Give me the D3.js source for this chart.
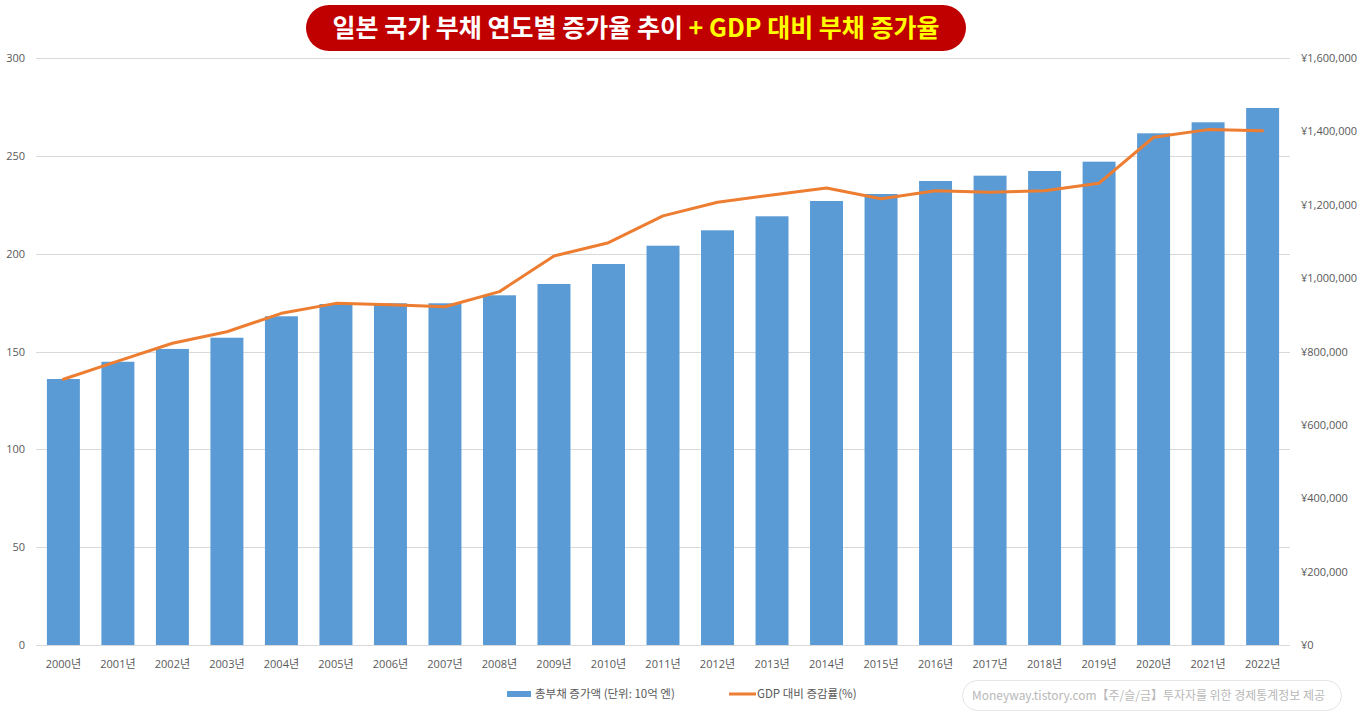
<!DOCTYPE html>
<html><head><meta charset="utf-8">
<script src="https://cdn.jsdelivr.net/npm/d3@7"></script>
<style>
html,body{margin:0;padding:0;background:#fff;}
svg{display:block;font-family:"Noto Sans CJK KR","Noto Sans",sans-serif;}
</style></head>
<body><svg id="c" width="1366" height="712"></svg>
<script>
const years = ["2000년","2001년","2002년","2003년","2004년","2005년","2006년","2007년","2008년","2009년","2010년","2011년","2012년","2013년","2014년","2015년","2016년","2017년","2018년","2019년","2020년","2021년","2022년"];
// 총부채 (단위: 10억 엔) - right axis
const debt = [725000,772000,807000,837600,896000,929500,931400,931400,953200,984000,1038500,1088400,1130300,1168500,1210200,1229300,1264700,1279200,1292000,1317400,1394700,1424700,1463700];
// GDP 대비 (%) - left axis
const ratio = [135.8,145.1,154.2,160.1,169.5,174.6,173.9,172.9,180.6,198.8,205.6,219.3,226.3,230.0,233.6,228.1,232.2,231.4,232.2,236.0,259.5,263.4,262.8];
const leftTicks = [0,50,100,150,200,250,300];
const rightTicks = [0,200000,400000,600000,800000,1000000,1200000,1400000,1600000];
const titleWhite = "일본 국가 부채 연도별 증가율 추이 ";
const titleYellow = "+ GDP 대비 부채 증가율";
const legendBar = "총부채 증가액 (단위: 10억 엔)";
const legendLine = "GDP 대비 증감률(%)";
const watermark = "Moneyway.tistory.com【주/슬/금】투자자를 위한 경제통계정보 제공";

const svg = d3.select("#c");
const pTop = 58, pBottom = 645, pLeft = 36, pRight = 1290;
const x = d3.scaleBand().domain(years).range([pLeft, pRight]).paddingInner(0.395).paddingOuter(0.2);
const yL = d3.scaleLinear().domain([0,300]).range([pBottom, pTop]);
const yR = d3.scaleLinear().domain([0,1600000]).range([pBottom, pTop]);

// gridlines
svg.append("g").selectAll("line").data(leftTicks.filter(d=>d>0)).join("line")
  .attr("x1", pLeft).attr("x2", pRight)
  .attr("y1", d=>Math.round(yL(d))+0.5).attr("y2", d=>Math.round(yL(d))+0.5)
  .attr("stroke","#d9d9d9").attr("stroke-width",1);

// bars
svg.append("g").selectAll("rect").data(debt).join("rect")
  .attr("x",(d,i)=>x(years[i])).attr("width",x.bandwidth())
  .attr("y",d=>yR(d)).attr("height",d=>pBottom-yR(d))
  .attr("fill","#5b9bd5");

// baseline
svg.append("line").attr("x1",pLeft).attr("x2",pRight).attr("y1",pBottom+0.5).attr("y2",pBottom+0.5)
  .attr("stroke","#d9d9d9");

// line
const line = d3.line().x((d,i)=>x(years[i])+x.bandwidth()/2).y(d=>yL(d));
svg.append("path").datum(ratio).attr("d",line).attr("fill","none")
  .attr("stroke","#ed7d31").attr("stroke-width",3).attr("stroke-linejoin","round").attr("stroke-linecap","round");

// left axis
const axL = d3.axisLeft(yL).tickValues(leftTicks).tickSize(0).tickPadding(0).tickFormat(d3.format("d"));
const gL = svg.append("g").attr("transform","translate(25,0)").call(axL);
gL.select(".domain").remove();
gL.selectAll("text").attr("fill","#595959").attr("font-size","11px").attr("font-family","'Open Sans','DejaVu Sans',sans-serif");

// right axis
const fmtY = d=>"¥"+d3.format(",")(d);
const axR = d3.axisRight(yR).tickValues(rightTicks).tickSize(0).tickPadding(0).tickFormat(fmtY);
const gR = svg.append("g").attr("transform","translate(1301,0)").call(axR);
gR.select(".domain").remove();
gR.selectAll("text").attr("fill","#595959").attr("font-size","11px").attr("font-family","'Open Sans','DejaVu Sans',sans-serif");

// x axis
const axX = d3.axisBottom(x).tickSize(0).tickPadding(0);
const gX = svg.append("g").attr("transform",`translate(0,${pBottom+15})`).call(axX);
gX.select(".domain").remove();
gX.selectAll("text").attr("fill","#595959").attr("font-size","11px").attr("font-family","'Open Sans','Noto Sans CJK KR',sans-serif");

// title
svg.append("rect").attr("x",306).attr("y",5).attr("width",660).attr("height",46).attr("rx",23).attr("fill","#c00000");
const t = svg.append("text").attr("x",636).attr("y",37).attr("text-anchor","middle")
  .attr("font-size","25px").attr("font-weight","bold").attr("font-family","'Noto Sans CJK KR',sans-serif")
  .attr("letter-spacing","0px");
t.append("tspan").attr("fill","#ffffff").text(titleWhite);
t.append("tspan").attr("fill","#ffff00").text(titleYellow);

// legend
const lg = svg.append("g");
lg.append("rect").attr("x",507).attr("y",691).attr("width",24).attr("height",6).attr("fill","#5b9bd5");
lg.append("text").attr("x",535).attr("y",698).attr("font-size","11.5px").attr("fill","#595959").text(legendBar);
lg.append("line").attr("x1",729).attr("x2",756).attr("y1",694).attr("y2",694).attr("stroke","#ed7d31").attr("stroke-width",3);
lg.append("text").attr("x",757).attr("y",698).attr("font-size","11.5px").attr("fill","#595959").text(legendLine);

// watermark
svg.append("rect").attr("x",962.5).attr("y",680.5).attr("width",379).attr("height",30).attr("rx",15)
  .attr("fill","#fff").attr("stroke","#e6e6e6");
svg.append("text").attr("x",972).attr("y",700).attr("font-size","12px").attr("fill","#b8b8b8")
  .attr("textLength",353).attr("lengthAdjust","spacingAndGlyphs").text(watermark);
</script></body></html>
